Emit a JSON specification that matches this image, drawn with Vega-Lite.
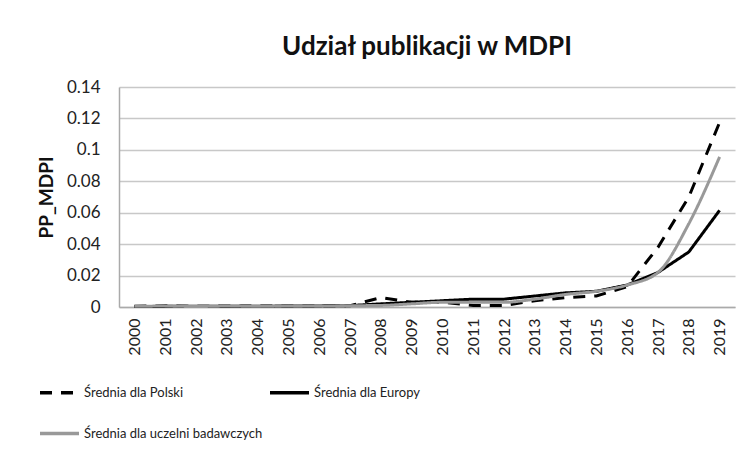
{
  "$schema": "https://vega.github.io/schema/vega-lite/v6.json",
  "autosize": {"type": "none"},
  "padding": {"left": 119, "top": 87, "right": 15, "bottom": 149},
  "width": 616,
  "height": 220,
  "background": "white",
  "title": {"text": "Udział publikacji w MDPI", "fontSize": 26, "font": "Lato", "fontWeight": "bold", "color": "#111", "offset": 18, "anchor": "middle"},
  "data": {"values": [
    {"rok": "2000", "seria": "Średnia dla Polski", "v": 0.0005},
    {"rok": "2001", "seria": "Średnia dla Polski", "v": 0.0008},
    {"rok": "2002", "seria": "Średnia dla Polski", "v": 0.0004},
    {"rok": "2003", "seria": "Średnia dla Polski", "v": 0.0007},
    {"rok": "2004", "seria": "Średnia dla Polski", "v": 0.0006},
    {"rok": "2005", "seria": "Średnia dla Polski", "v": 0.0007},
    {"rok": "2006", "seria": "Średnia dla Polski", "v": 0.0006},
    {"rok": "2007", "seria": "Średnia dla Polski", "v": 0.0008},
    {"rok": "2008", "seria": "Średnia dla Polski", "v": 0.006},
    {"rok": "2009", "seria": "Średnia dla Polski", "v": 0.003},
    {"rok": "2010", "seria": "Średnia dla Polski", "v": 0.003},
    {"rok": "2011", "seria": "Średnia dla Polski", "v": 0.001},
    {"rok": "2012", "seria": "Średnia dla Polski", "v": 0.001},
    {"rok": "2013", "seria": "Średnia dla Polski", "v": 0.004},
    {"rok": "2014", "seria": "Średnia dla Polski", "v": 0.006},
    {"rok": "2015", "seria": "Średnia dla Polski", "v": 0.007},
    {"rok": "2016", "seria": "Średnia dla Polski", "v": 0.013},
    {"rok": "2017", "seria": "Średnia dla Polski", "v": 0.038},
    {"rok": "2018", "seria": "Średnia dla Polski", "v": 0.07},
    {"rok": "2019", "seria": "Średnia dla Polski", "v": 0.1175},
    {"rok": "2000", "seria": "Średnia dla Europy", "v": 0.0003},
    {"rok": "2001", "seria": "Średnia dla Europy", "v": 0.0004},
    {"rok": "2002", "seria": "Średnia dla Europy", "v": 0.0004},
    {"rok": "2003", "seria": "Średnia dla Europy", "v": 0.0005},
    {"rok": "2004", "seria": "Średnia dla Europy", "v": 0.0005},
    {"rok": "2005", "seria": "Średnia dla Europy", "v": 0.0006},
    {"rok": "2006", "seria": "Średnia dla Europy", "v": 0.0007},
    {"rok": "2007", "seria": "Średnia dla Europy", "v": 0.0009},
    {"rok": "2008", "seria": "Średnia dla Europy", "v": 0.002},
    {"rok": "2009", "seria": "Średnia dla Europy", "v": 0.003},
    {"rok": "2010", "seria": "Średnia dla Europy", "v": 0.004},
    {"rok": "2011", "seria": "Średnia dla Europy", "v": 0.005},
    {"rok": "2012", "seria": "Średnia dla Europy", "v": 0.005},
    {"rok": "2013", "seria": "Średnia dla Europy", "v": 0.007},
    {"rok": "2014", "seria": "Średnia dla Europy", "v": 0.009},
    {"rok": "2015", "seria": "Średnia dla Europy", "v": 0.010},
    {"rok": "2016", "seria": "Średnia dla Europy", "v": 0.014},
    {"rok": "2017", "seria": "Średnia dla Europy", "v": 0.022},
    {"rok": "2018", "seria": "Średnia dla Europy", "v": 0.035},
    {"rok": "2019", "seria": "Średnia dla Europy", "v": 0.0615},
    {"rok": "2000", "seria": "Średnia dla uczelni badawczych", "v": 0.0004},
    {"rok": "2001", "seria": "Średnia dla uczelni badawczych", "v": 0.0006},
    {"rok": "2002", "seria": "Średnia dla uczelni badawczych", "v": 0.0003},
    {"rok": "2003", "seria": "Średnia dla uczelni badawczych", "v": 0.0006},
    {"rok": "2004", "seria": "Średnia dla uczelni badawczych", "v": 0.0005},
    {"rok": "2005", "seria": "Średnia dla uczelni badawczych", "v": 0.0006},
    {"rok": "2006", "seria": "Średnia dla uczelni badawczych", "v": 0.0006},
    {"rok": "2007", "seria": "Średnia dla uczelni badawczych", "v": 0.0008},
    {"rok": "2008", "seria": "Średnia dla uczelni badawczych", "v": 0.001},
    {"rok": "2009", "seria": "Średnia dla uczelni badawczych", "v": 0.002},
    {"rok": "2010", "seria": "Średnia dla uczelni badawczych", "v": 0.003},
    {"rok": "2011", "seria": "Średnia dla uczelni badawczych", "v": 0.003},
    {"rok": "2012", "seria": "Średnia dla uczelni badawczych", "v": 0.003},
    {"rok": "2013", "seria": "Średnia dla uczelni badawczych", "v": 0.005},
    {"rok": "2014", "seria": "Średnia dla uczelni badawczych", "v": 0.008},
    {"rok": "2015", "seria": "Średnia dla uczelni badawczych", "v": 0.010},
    {"rok": "2016", "seria": "Średnia dla uczelni badawczych", "v": 0.014},
    {"rok": "2017", "seria": "Średnia dla uczelni badawczych", "v": 0.022},
    {"rok": "2018", "seria": "Średnia dla uczelni badawczych", "v": 0.053},
    {"rok": "2019", "seria": "Średnia dla uczelni badawczych", "v": 0.0955}
  ]},
  "encoding": {
    "x": {"field": "rok", "type": "ordinal", "scale": {"type": "point", "padding": 0.5},
      "axis": {"title": null, "labelAngle": -90, "labelAlign": "right", "labelBaseline": "middle", "labelFontSize": 16, "labelFont": "Lato", "labelColor": "#222", "domainColor": "#aaa", "domainWidth": 1.5, "ticks": false, "grid": false, "labelPadding": 11}},
    "y": {"field": "v", "type": "quantitative", "scale": {"domain": [0, 0.14], "nice": false},
      "axis": {"title": "PP_MDPI", "titleFont": "Lato", "titleFontSize": 19, "titleFontWeight": "bold", "titleColor": "#111", "titlePadding": 10, "values": [0, 0.02, 0.04, 0.06, 0.08, 0.1, 0.12, 0.14], "format": "~g", "labelFontSize": 17, "labelFont": "Lato", "labelColor": "#222", "ticks": false, "labelPadding": 19, "domainColor": "#aaa", "domainWidth": 1.5, "gridColor": "#c8c8c8", "gridWidth": 1.5}},
    "color": {"field": "seria", "type": "nominal",
      "scale": {"domain": ["Średnia dla Polski", "Średnia dla Europy", "Średnia dla uczelni badawczych"], "range": ["#000000", "#000000", "#999999"]},
      "legend": {"title": null, "orient": "none", "legendX": -81, "legendY": 284, "padding": 0, "columns": 2, "direction": "horizontal", "symbolType": "stroke", "symbolSize": 1521, "symbolStrokeWidth": 3.5, "labelFontSize": 13, "labelFont": "Lato", "labelColor": "#222", "labelOffset": 3, "labelLimit": 400, "columnPadding": 0, "rowPadding": 12}},
    "strokeDash": {"field": "seria", "type": "nominal",
      "scale": {"domain": ["Średnia dla Polski", "Średnia dla Europy", "Średnia dla uczelni badawczych"], "range": [[12, 9], [1, 0], [1, 0]]},
      "legend": {"title": null}}
  },
  "layer": [
    {"transform": [{"filter": "datum.seria !== 'Średnia dla uczelni badawczych'"}],
     "mark": {"type": "line", "strokeWidth": 3, "strokeCap": "butt"}},
    {"transform": [{"filter": "datum.seria === 'Średnia dla uczelni badawczych'"}],
     "mark": {"type": "line", "strokeWidth": 3, "strokeCap": "butt", "interpolate": "monotone"}}
  ],
  "config": {"view": {"stroke": null}}
}
